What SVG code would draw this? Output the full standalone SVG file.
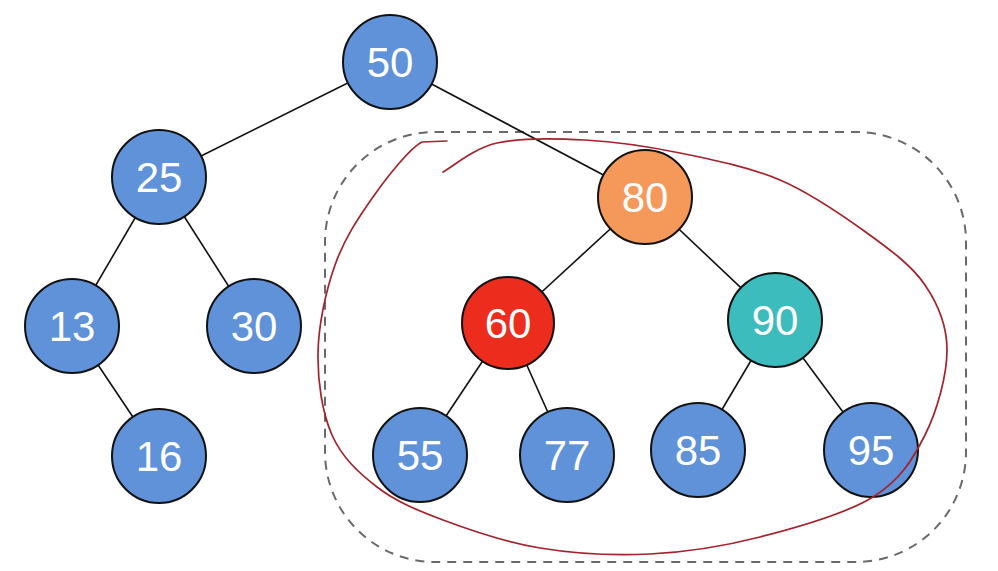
<svg xmlns="http://www.w3.org/2000/svg" width="998" height="571" viewBox="0 0 998 571">
<style>
.n{stroke:#111;stroke-width:2}
.b{fill:#5f92d8}
.t{fill:#fff;font-family:"Liberation Sans",Arial,sans-serif;font-size:42px;text-anchor:middle}
.e{stroke:#111;stroke-width:1.6;fill:none}
</style>
<rect width="998" height="571" fill="#fff"/>
<rect x="325" y="132" width="641" height="430" rx="110" ry="110" fill="none" stroke="#6a6a6a" stroke-width="2" stroke-dasharray="9 7"/>
<g id="connectors">
<line class="e" x1="390" y1="62" x2="159" y2="177"/>
<line class="e" x1="390" y1="62" x2="645" y2="197"/>
<line class="e" x1="159" y1="177" x2="72" y2="326"/>
<line class="e" x1="159" y1="177" x2="254" y2="326"/>
<line class="e" x1="72" y1="326" x2="159" y2="456"/>
<line class="e" x1="645" y1="197" x2="508" y2="323"/>
<line class="e" x1="645" y1="197" x2="775" y2="320"/>
<line class="e" x1="508" y1="323" x2="420" y2="455"/>
<line class="e" x1="508" y1="323" x2="567" y2="455"/>
<line class="e" x1="775" y1="320" x2="698" y2="450"/>
<line class="e" x1="775" y1="320" x2="871" y2="450"/>
</g>
<g id="n50"><circle class="n b" cx="390" cy="62" r="47"/><text class="t" x="390" y="77">50</text></g>
<g id="n25"><circle class="n b" cx="159" cy="177" r="47"/><text class="t" x="159" y="192">25</text></g>
<g id="n13"><circle class="n b" cx="72" cy="326" r="47"/><text class="t" x="72" y="341">13</text></g>
<g id="n30"><circle class="n b" cx="254" cy="326" r="47"/><text class="t" x="254" y="341">30</text></g>
<g id="n16"><circle class="n b" cx="159" cy="456" r="47"/><text class="t" x="159" y="471">16</text></g>
<g id="n80"><circle class="n" fill="#f5995a" cx="645" cy="197" r="47"/><text class="t" x="645" y="212">80</text></g>
<g id="n60"><circle class="n" fill="#ec2c1c" cx="508" cy="323" r="46"/><text class="t" x="508" y="338">60</text></g>
<g id="n90"><circle class="n" fill="#3dbcbd" cx="775" cy="320" r="47"/><text class="t" x="775" y="335">90</text></g>
<g id="n55"><circle class="n b" cx="420" cy="455" r="47"/><text class="t" x="420" y="470">55</text></g>
<g id="n77"><circle class="n b" cx="567" cy="455" r="47"/><text class="t" x="567" y="470">77</text></g>
<g id="n85"><circle class="n b" cx="698" cy="450" r="47"/><text class="t" x="698" y="465">85</text></g>
<g id="n95"><circle class="n b" cx="871" cy="450" r="47"/><text class="t" x="871" y="465">95</text></g>
<path fill="none" stroke="#a3232c" stroke-width="1.7" stroke-linecap="round" stroke-linejoin="round" d="M447,141 L422,142 C410,148 387.5,176.5 373,197 C358.5,217.5 344.2,239 335,265 C325.8,291 318.5,324.7 318,353 C317.5,381.3 322.2,412.7 332,435 C341.8,457.3 358.5,472.8 377,487 C395.5,501.2 415.8,509.8 443,520 C470.2,530.2 505.5,542.3 540,548 C574.5,553.7 613.3,555.8 650,554 C686.7,552.2 722.8,546.5 760,537 C797.2,527.5 845.5,514 873,497 C900.5,480 912.7,459.5 925,435 C937.3,410.5 947,375 947,350 C947,325 938.3,304.5 925,285 C911.7,265.5 891.2,250.5 867,233 C842.8,215.5 811.2,193.3 780,180 C748.8,166.7 712.5,159.7 680,153 C647.5,146.3 615.5,141.7 585,140 C554.5,138.3 520.7,137.7 497,143 C473.3,148.3 452,167.2 443,172"/>
</svg>
